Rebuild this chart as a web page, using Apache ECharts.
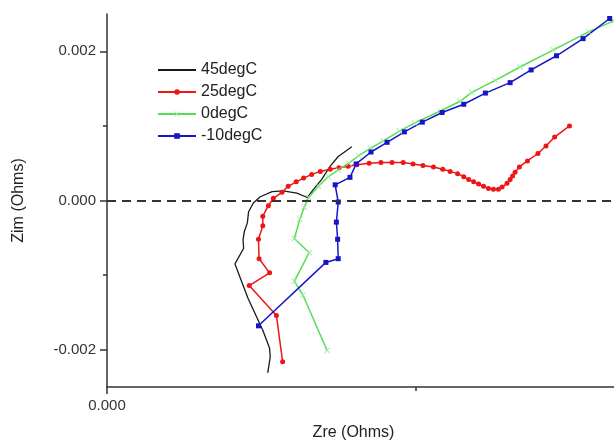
<!DOCTYPE html>
<html>
<head>
<meta charset="utf-8">
<script src="https://cdn.jsdelivr.net/npm/echarts@6/dist/echarts.min.js"></script>
<style>
  html, body { margin: 0; padding: 0; background: #fff; }
  #main { width: 614px; height: 441px; }
</style>
</head>
<body>
<div id="main"></div>
<script>
// Nyquist data (Ohms)
var names = ['45degC', '25degC', '0degC', '-10degC'];

var zre45 = [0.00396, 0.00374, 0.00361, 0.00347, 0.00333, 0.00324, 0.00307, 0.00285, 0.00267, 0.00248, 0.00237,
  0.00229, 0.00227, 0.00222, 0.00220, 0.00221, 0.00207, 0.00228, 0.00252, 0.00263, 0.00264, 0.00260];
var zim45 = [0.00072, 0.00059, 0.00046, 0.00028, 0.00014, 0.00004, 0.00010, 0.00013, 0.00012, 0.00005, -0.00003,
  -0.00015, -0.00030, -0.00042, -0.00053, -0.00064, -0.00085, -0.00131, -0.00174, -0.00198, -0.00210, -0.00231];

var zre25 = [0.00284, 0.00274, 0.00230, 0.00263, 0.00246, 0.00245, 0.00252, 0.00252, 0.00261, 0.00269, 0.00283,
  0.00293, 0.00306, 0.00318, 0.00331, 0.00345, 0.00361, 0.00375, 0.00390, 0.00404, 0.00424, 0.00443, 0.00461,
  0.00479, 0.00495, 0.00511, 0.00528, 0.00543, 0.00555, 0.00567, 0.00577, 0.00585, 0.00593, 0.00601, 0.00609,
  0.00617, 0.00625, 0.00633, 0.00639, 0.00647, 0.00652, 0.00656, 0.00660, 0.00667, 0.00680, 0.00697, 0.00710,
  0.00724, 0.00748];
var zim25 = [-0.00216, -0.00154, -0.00114, -0.00097, -0.00078, -0.00052, -0.00034, -0.00021, -0.00007, 0.00003,
  0.00011, 0.00019, 0.00025, 0.00030, 0.00035, 0.00039, 0.00042, 0.00044, 0.00046, 0.00048, 0.00050, 0.00051,
  0.00051, 0.00051, 0.00049, 0.00047, 0.00045, 0.00042, 0.00039, 0.00036, 0.00032, 0.00028, 0.00025, 0.00022,
  0.00019, 0.00016, 0.00015, 0.00015, 0.00018, 0.00023, 0.00028, 0.00033, 0.00038, 0.00045, 0.00053, 0.00063,
  0.00073, 0.00085, 0.00100];

var zre0 = [0.00356, 0.00317, 0.00303, 0.00327, 0.00303, 0.00312, 0.00319, 0.00326, 0.00342, 0.00358, 0.00374,
  0.00391, 0.00407, 0.00426, 0.00447, 0.00473, 0.00498, 0.00539, 0.00571, 0.00590, 0.00628, 0.00668, 0.00722,
  0.00779, 0.00820];
var zim0 = [-0.00201, -0.00127, -0.00108, -0.00070, -0.00051, -0.00025, -0.00009, 0.00004, 0.00019, 0.00032,
  0.00041, 0.00050, 0.00060, 0.00070, 0.00080, 0.00093, 0.00104, 0.00120, 0.00133, 0.00145, 0.00161, 0.00179,
  0.00202, 0.00226, 0.00241];

var zreM10 = [0.00245, 0.00354, 0.00374, 0.00373, 0.00371, 0.00374, 0.00369, 0.00393, 0.00403, 0.00427, 0.00453,
  0.00481, 0.00510, 0.00542, 0.00577, 0.00612, 0.00652, 0.00686, 0.00727, 0.00770, 0.00813];
var zimM10 = [-0.00168, -0.00083, -0.00078, -0.00052, -0.00029, -0.00002, 0.00021, 0.00031, 0.00049, 0.00065,
  0.00078, 0.00092, 0.00105, 0.00118, 0.00129, 0.00144, 0.00158, 0.00175, 0.00194, 0.00217, 0.00244];

var yMajorTicks = [-0.002, 0, 0.002];
var yMinorTicks = [-0.001, 0.001];
var xMajorTicks = [0];
var xMinorTicks = [0.005];

function zip(a, b) {
  var out = [];
  for (var i = 0; i < a.length; i++) out.push([a[i], b[i]]);
  return out;
}

var crossIcon = 'path://M0,1L1,0L5,4L9,0L10,1L6,5L10,9L9,10L5,6L1,10L0,9L4,5Z';
var fontFam = 'Liberation Sans, Arial, sans-serif';
var axisColor = '#333';

var chart = echarts.init(document.getElementById('main'), null, { renderer: 'canvas' });

var option = {
  animation: false,
  backgroundColor: '#fff',
  textStyle: { fontFamily: fontFam },
  grid: { left: 107, right: 0, top: 14, bottom: 54, outerBoundsMode: 'none', containLabel: false },
  legend: {
    orient: 'vertical',
    left: 152,
    top: 57,
    itemWidth: 38,
    itemHeight: 7,
    itemGap: 6,
    textStyle: { fontSize: 16, color: '#222', fontFamily: fontFam },
    data: [
      { name: '45degC', itemStyle: { opacity: 0 } },
      { name: '25degC' },
      { name: '0degC' },
      { name: '-10degC' }
    ]
  },
  xAxis: [{
    type: 'value',
    min: 0,
    max: 0.0082,
    name: 'Zre (Ohms)',
    nameLocation: 'middle',
    nameGap: 38,
    nameTextStyle: { fontSize: 16, color: '#222', padding: [0, 14, 0, 0] },
    splitLine: { show: false },
    axisLine: { onZero: false, lineStyle: { color: axisColor, width: 1.5 } },
    axisTick: { customValues: xMajorTicks, length: 7, lineStyle: { color: axisColor, width: 1.5 } },
    axisLabel: {
      customValues: xMajorTicks, margin: 11, fontSize: 15, color: '#333',
      formatter: function (v) { return v.toFixed(3); }
    }
  }, {
    type: 'value',
    min: 0,
    max: 0.0082,
    position: 'bottom',
    splitLine: { show: false },
    axisLine: { show: false, onZero: false },
    axisTick: { customValues: xMinorTicks, length: 4, lineStyle: { color: axisColor, width: 1.5 } },
    axisLabel: { show: false }
  }],
  yAxis: [{
    type: 'value',
    min: -0.0025,
    max: 0.0025,
    name: 'Zim (Ohms)',
    nameLocation: 'middle',
    nameGap: 80,
    nameTextStyle: { fontSize: 16, color: '#222' },
    splitLine: { show: false },
    axisLine: { onZero: false, lineStyle: { color: axisColor, width: 1.5 } },
    axisTick: { customValues: yMajorTicks, length: 7, lineStyle: { color: axisColor, width: 1.5 } },
    axisLabel: {
      customValues: yMajorTicks, margin: 11, fontSize: 15, color: '#333',
      formatter: function (v) { return v.toFixed(3); }
    }
  }, {
    type: 'value',
    min: -0.0025,
    max: 0.0025,
    position: 'left',
    splitLine: { show: false },
    axisLine: { show: false, onZero: false },
    axisTick: { customValues: yMinorTicks, length: 4, lineStyle: { color: axisColor, width: 1.5 } },
    axisLabel: { show: false }
  }],
  series: [{
    name: '45degC',
    type: 'line',
    data: zip(zre45, zim45),
    symbol: 'none',
    color: '#1a1a1a',
    lineStyle: { width: 1.3, color: '#1a1a1a' },
    markLine: {
      silent: true,
      symbol: 'none',
      label: { show: false },
      lineStyle: { type: [9, 6], color: '#333', width: 2 },
      data: [{ yAxis: 0 }]
    }
  }, {
    name: '25degC',
    type: 'line',
    data: zip(zre25, zim25),
    symbol: 'circle',
    symbolSize: 5,
    color: '#ee1515',
    itemStyle: { color: '#ee1515' },
    lineStyle: { width: 1.5, color: '#ee1515' }
  }, {
    name: '0degC',
    type: 'line',
    data: zip(zre0, zim0),
    symbol: crossIcon,
    symbolSize: 6,
    color: '#55dd55',
    itemStyle: { color: '#9be89b' },
    lineStyle: { width: 1.5, color: '#55dd55' }
  }, {
    name: '-10degC',
    type: 'line',
    data: zip(zreM10, zimM10),
    symbol: 'rect',
    symbolSize: 5,
    color: '#1616c8',
    itemStyle: { color: '#1616c8' },
    lineStyle: { width: 1.5, color: '#1616c8' }
  }]
};

chart.setOption(option);
</script>
</body>
</html>
